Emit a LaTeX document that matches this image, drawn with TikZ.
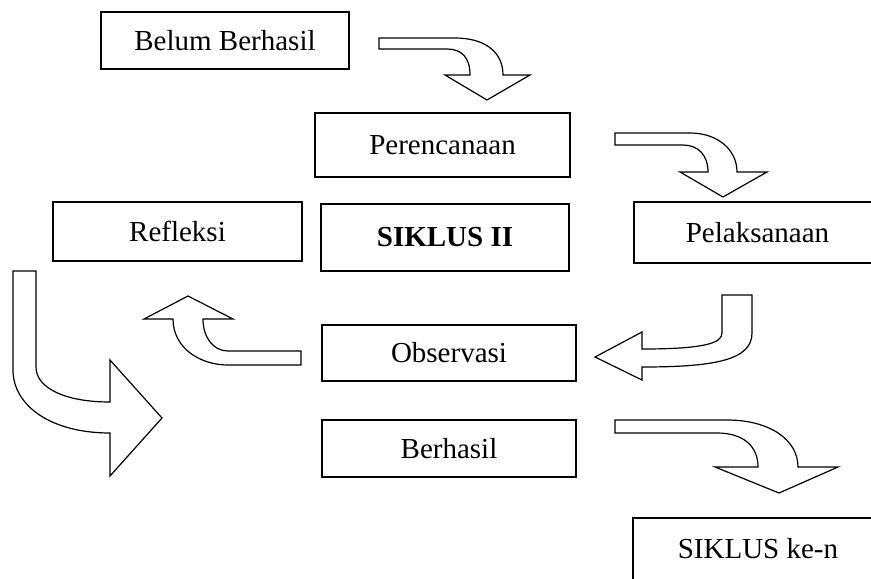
\documentclass[tikz,border=0pt]{standalone}
\usepackage{fontspec}
\setmainfont{Liberation Serif}
\usepackage{tikz}

\begin{document}
\begin{tikzpicture}[x=0.5pt, y=-0.5pt,
    box/.style={rectangle, draw, line width=0.6pt, inner sep=0pt, font=\fontsize{14.5}{17}\selectfont},
    bentarrow/.style={draw, fill=white, line width=0.6pt, line join=miter}]

    \clip (0,0) rectangle (871,578);

    % kotak-kotak siklus
    \node[box, minimum width=124pt, minimum height=28.5pt] (belum) at (225,40.5) {Belum Berhasil};
    \node[box, minimum width=127.5pt, minimum height=32pt] (rencana) at (442.5,145) {Perencanaan};
    \node[box, minimum width=124pt, minimum height=33.5pt] (siklus) at (445,237.5) {\textbf{SIKLUS II}};
    \node[box, minimum width=124.5pt, minimum height=29.5pt] (refleksi) at (177.5,231.5) {Refleksi};
    \node[box, minimum width=123.5pt, minimum height=30.5pt] (laksana) at (757.5,232.5) {Pelaksanaan};
    \node[box, minimum width=127pt, minimum height=28pt] (observasi) at (449,353) {Observasi};
    \node[box, minimum width=127pt, minimum height=28.5pt] (berhasil) at (449,448.5) {Berhasil};
    \node[box, minimum width=125pt, minimum height=31pt] (siklusn) at (758,549) {SIKLUS ke-n};

    % panah lengkung
    \draw[bentarrow] (379,38) -- (455,38) .. controls (485,38) and (503,52) .. (503,75)
        -- (530,75) -- (487,100) -- (445,75) -- (470,75)
        .. controls (470,58) and (462,49) .. (447,49) -- (379,49) -- cycle;
    \draw[bentarrow] (615,133) -- (690,133) .. controls (718,133) and (737,150) .. (737,172)
        -- (767,172) -- (723,197) -- (680,172) -- (708,172)
        .. controls (708,155) and (698,145) .. (683,145) -- (615,145) -- cycle;
    \draw[bentarrow] (722,295) -- (752,295) -- (752,333) .. controls (752,360) and (715,367) .. (642,367)
        -- (642,380) -- (595,357) -- (642,332) -- (642,349)
        .. controls (705,349) and (722,343) .. (722,333) -- cycle;
    \draw[bentarrow] (301,351) -- (228,351) .. controls (213,351) and (203,337) .. (203,319)
        -- (233,319) -- (188,296) -- (144,319) -- (173,319)
        .. controls (173,348) and (200,365) .. (228,365) -- (301,365) -- cycle;
    \draw[bentarrow] (13,271) -- (36,271) -- (36,367) .. controls (36,388) and (65,402) .. (110,402)
        -- (110,360) -- (162,418) -- (110,476) -- (110,433)
        .. controls (50,433) and (13,405) .. (13,370) -- cycle;
    \draw[bentarrow] (615,420) -- (727,420) .. controls (770,420) and (798,440) .. (798,467)
        -- (838,467) -- (779,493) -- (715,467) -- (758,467)
        .. controls (758,445) and (742,433) .. (717,433) -- (615,433) -- cycle;
\end{tikzpicture}
\end{document}
